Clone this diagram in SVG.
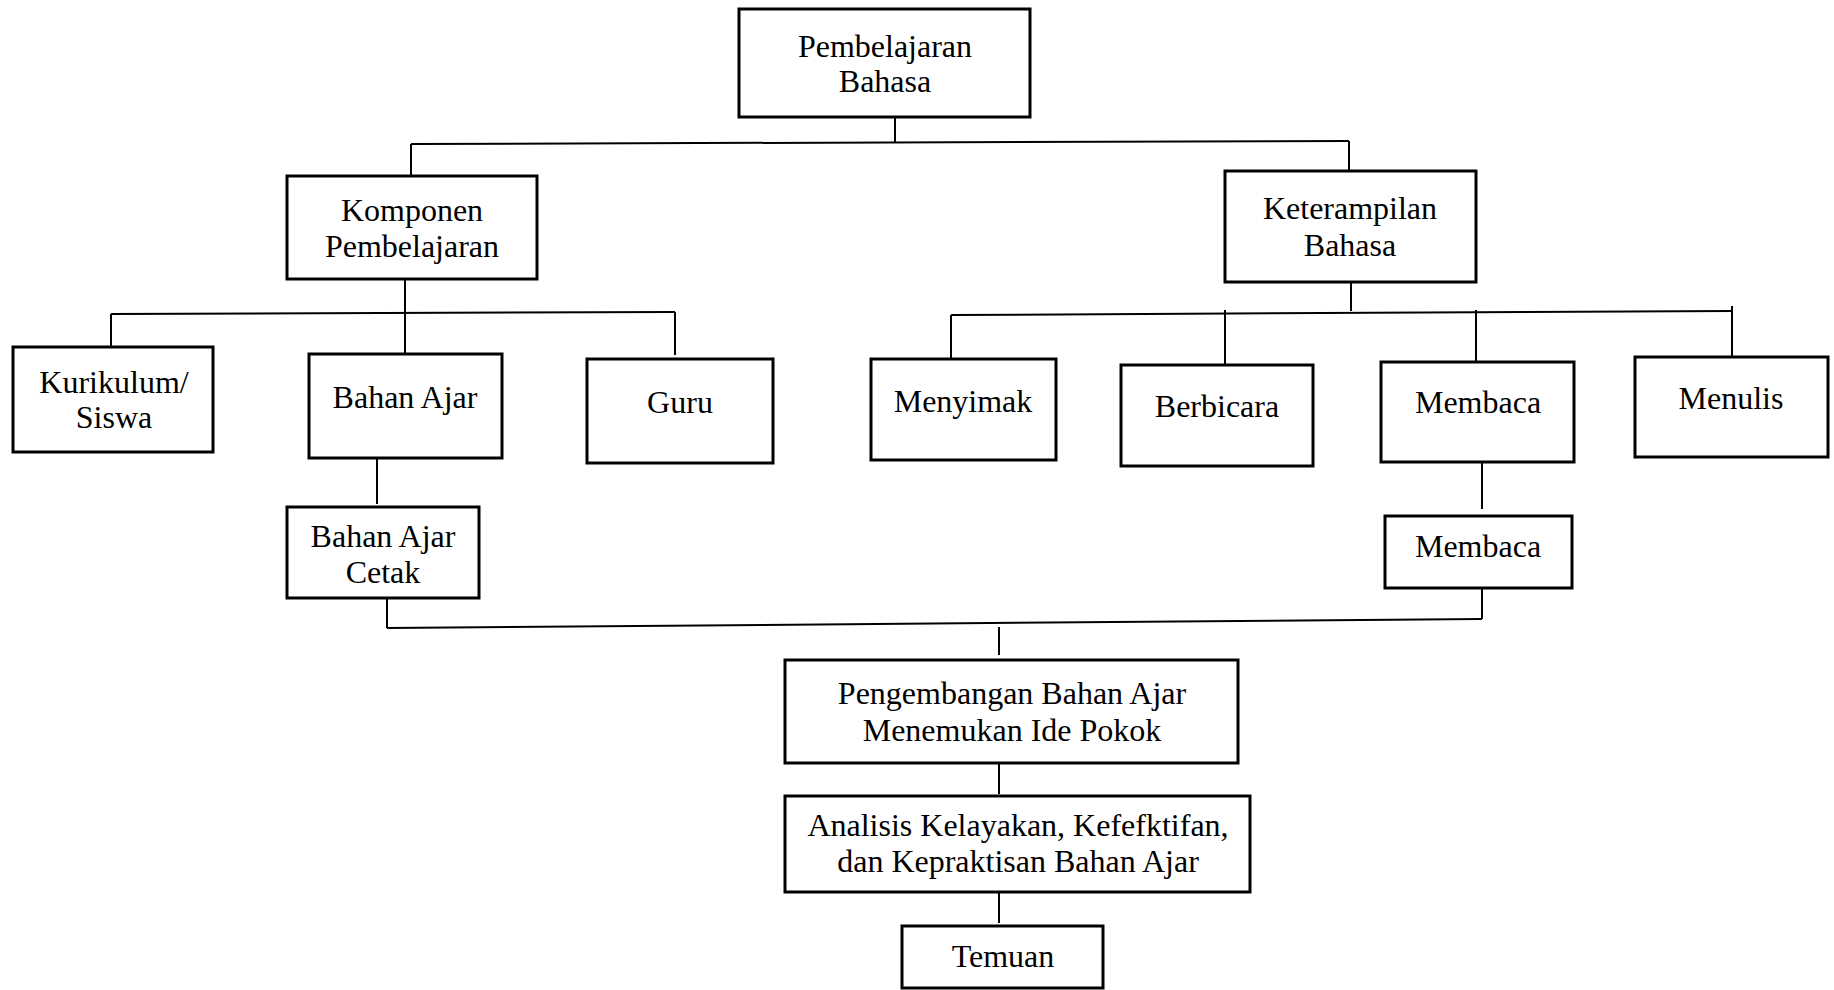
<svg xmlns="http://www.w3.org/2000/svg" width="1834" height="990" viewBox="0 0 1834 990">
<style>
.box{fill:#fff;stroke:#000;stroke-width:3}
.t{font-family:"Liberation Serif","Times New Roman",serif;font-size:32px;fill:#000;text-anchor:middle}
.c{fill:none;stroke:#000;stroke-width:2}
</style>
<rect width="1834" height="990" fill="#fff"/>
<g id="connectors">
<line class="c" x1="895" y1="117" x2="895" y2="142"/>
<line class="c" x1="411" y1="144" x2="1349" y2="141"/>
<line class="c" x1="411" y1="144" x2="411" y2="176"/>
<line class="c" x1="1349" y1="141" x2="1349" y2="171"/>
<line class="c" x1="405" y1="279" x2="405" y2="354"/>
<line class="c" x1="111" y1="314" x2="675" y2="312"/>
<line class="c" x1="111" y1="314" x2="111" y2="347"/>
<line class="c" x1="675" y1="312" x2="675" y2="355"/>
<line class="c" x1="1351" y1="282" x2="1351" y2="311"/>
<line class="c" x1="951" y1="315" x2="1732" y2="311"/>
<line class="c" x1="951" y1="315" x2="951" y2="362"/>
<line class="c" x1="1225" y1="310" x2="1225" y2="364"/>
<line class="c" x1="1476" y1="310" x2="1476" y2="364"/>
<line class="c" x1="1732" y1="306" x2="1732" y2="357"/>
<line class="c" x1="377" y1="455" x2="377" y2="504"/>
<line class="c" x1="1482" y1="462" x2="1482" y2="509"/>
<line class="c" x1="387" y1="598" x2="387" y2="628"/>
<line class="c" x1="1482" y1="588" x2="1482" y2="619"/>
<line class="c" x1="387" y1="628" x2="1482" y2="619"/>
<line class="c" x1="999" y1="627" x2="999" y2="655"/>
<line class="c" x1="999" y1="763" x2="999" y2="794"/>
<line class="c" x1="999" y1="892" x2="999" y2="923"/>
</g>
<g id="pembelajaran-bahasa">
<rect class="box" x="739" y="9" width="291" height="108"/>
<text class="t" x="885" y="57">Pembelajaran</text>
<text class="t" x="885" y="92">Bahasa</text>
</g>
<g id="komponen-pembelajaran">
<rect class="box" x="287" y="176" width="250" height="103"/>
<text class="t" x="412" y="221">Komponen</text>
<text class="t" x="412" y="257">Pembelajaran</text>
</g>
<g id="keterampilan-bahasa">
<rect class="box" x="1225" y="171" width="251" height="111"/>
<text class="t" x="1350" y="219">Keterampilan</text>
<text class="t" x="1350" y="256">Bahasa</text>
</g>
<g id="kurikulum-siswa">
<rect class="box" x="13" y="347" width="200" height="105"/>
<text class="t" x="114" y="393">Kurikulum/</text>
<text class="t" x="114" y="428">Siswa</text>
</g>
<g id="bahan-ajar">
<rect class="box" x="309" y="354" width="193" height="104"/>
<text class="t" x="405" y="408">Bahan Ajar</text>
</g>
<g id="guru">
<rect class="box" x="587" y="359" width="186" height="104"/>
<text class="t" x="680" y="413">Guru</text>
</g>
<g id="menyimak">
<rect class="box" x="871" y="359" width="185" height="101"/>
<text class="t" x="963" y="412">Menyimak</text>
</g>
<g id="berbicara">
<rect class="box" x="1121" y="365" width="192" height="101"/>
<text class="t" x="1217" y="417">Berbicara</text>
</g>
<g id="membaca">
<rect class="box" x="1381" y="362" width="193" height="100"/>
<text class="t" x="1478" y="413">Membaca</text>
</g>
<g id="menulis">
<rect class="box" x="1635" y="357" width="193" height="100"/>
<text class="t" x="1731" y="409">Menulis</text>
</g>
<g id="bahan-ajar-cetak">
<rect class="box" x="287" y="507" width="192" height="91"/>
<text class="t" x="383" y="547">Bahan Ajar</text>
<text class="t" x="383" y="583">Cetak</text>
</g>
<g id="membaca-2">
<rect class="box" x="1385" y="516" width="187" height="72"/>
<text class="t" x="1478" y="557">Membaca</text>
</g>
<g id="pengembangan">
<rect class="box" x="785" y="660" width="453" height="103"/>
<text class="t" x="1012" y="704">Pengembangan Bahan Ajar</text>
<text class="t" x="1012" y="741">Menemukan Ide Pokok</text>
</g>
<g id="analisis">
<rect class="box" x="785" y="796" width="465" height="96"/>
<text class="t" x="1018" y="836">Analisis Kelayakan, Kefefktifan,</text>
<text class="t" x="1018" y="872">dan Kepraktisan Bahan Ajar</text>
</g>
<g id="temuan">
<rect class="box" x="902" y="926" width="201" height="62"/>
<text class="t" x="1003" y="967">Temuan</text>
</g>
</svg>
